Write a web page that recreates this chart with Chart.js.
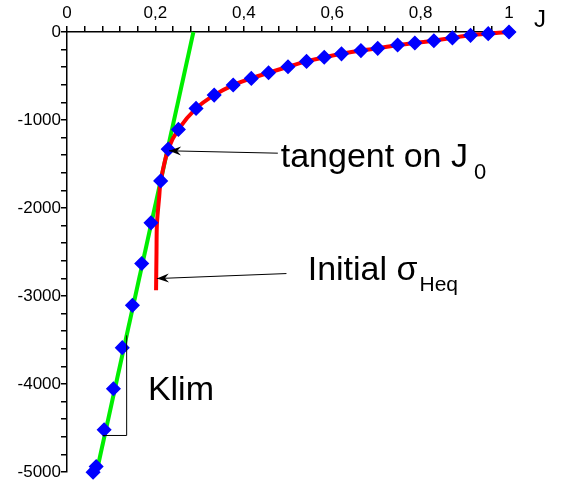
<!DOCTYPE html>
<html>
<head>
<meta charset="utf-8">
<script src="https://cdn.jsdelivr.net/npm/chart.js@4/dist/chart.umd.min.js"></script>
<style>
  html, body { margin:0; padding:0; background:#fff; }
  #wrap { width:563px; height:485px; position:relative; }
</style>
</head>
<body>
<div id="wrap"><canvas id="c"></canvas></div>
<script>
// measured points (J, sigma)
const ptJ = [0.059,0.066,0.084,0.105,0.125,0.148,0.169,0.190,0.212,0.229,0.252,0.292,0.333,0.376,0.417,0.456,0.500,0.542,0.582,0.621,0.665,0.703,0.748,0.787,0.830,0.872,0.913,0.953,1.000];
const ptS = [-5002,-4937,-4520,-4054,-3587,-3106,-2631,-2169,-1692,-1331,-1107,-868,-717,-603,-527,-463,-395,-334,-287,-248,-211,-186,-147,-125,-99,-67,-38,-19,0];

// red fitted curve, tail going down to the initial sigma_Heq
const fitJ = [0.2015,0.2025,0.2035,0.2086,0.212,0.229,0.252,0.292,0.333,0.376,0.417,0.456,0.500,0.542,0.582,0.621,0.665,0.703,0.748,0.787,0.830,0.872,0.913,0.953,1.000];
const fitS = [-2935,-2500,-2176,-1873,-1692,-1331,-1107,-868,-717,-603,-527,-463,-395,-334,-287,-248,-211,-186,-147,-125,-99,-67,-38,-19,0];

// green tangent line
const tanJ = [0.0707, 0.286];
const tanS = [-4915, 0];

// axis ticks
const xMajor = [0, 0.2, 0.4, 0.6, 0.8, 1];
const yMajor = [0, -1000, -2000, -3000, -4000, -5000];

const FONT = '"Liberation Sans", Arial, sans-serif';
const zip = (a, b) => a.map((v, i) => ({x: v, y: b[i]}));
const isMajor = (v, list) => list.some(m => Math.abs(m - v) < 1e-6);

// annotation helpers (data coordinates)
function arrow(ctx, x1, y1, x2, y2) {
  ctx.beginPath();
  ctx.moveTo(x1, y1); ctx.lineTo(x2, y2);
  ctx.stroke();
  const a = Math.atan2(y2 - y1, x2 - x1), L = 12, W = 4.5;
  const bx = x2 - Math.cos(a) * L, by = y2 - Math.sin(a) * L;
  const nx = x2 - Math.cos(a) * (L - 4), ny = y2 - Math.sin(a) * (L - 4);
  ctx.beginPath();
  ctx.moveTo(x2, y2);
  ctx.lineTo(bx - Math.sin(a) * W, by + Math.cos(a) * W);
  ctx.lineTo(nx, ny);
  ctx.lineTo(bx + Math.sin(a) * W, by - Math.cos(a) * W);
  ctx.closePath();
  ctx.fill();
}

const notes = {
  id: 'notes',
  afterDatasetsDraw(chart) {
    const {ctx, scales:{x, y}} = chart;
    ctx.save();
    ctx.strokeStyle = '#000'; ctx.fillStyle = '#000'; ctx.lineWidth = 1;

    // arrows
    arrow(ctx, x.getPixelForValue(0.477), y.getPixelForValue(-1377),
               x.getPixelForValue(0.231), y.getPixelForValue(-1350));
    arrow(ctx, x.getPixelForValue(0.4965), y.getPixelForValue(-2745),
               x.getPixelForValue(0.2034), y.getPixelForValue(-2802));

    // Klim bracket
    ctx.beginPath();
    ctx.moveTo(x.getPixelForValue(0.135), y.getPixelForValue(-3447));
    ctx.lineTo(x.getPixelForValue(0.135), y.getPixelForValue(-4585));
    ctx.lineTo(x.getPixelForValue(0.081), y.getPixelForValue(-4585));
    ctx.stroke();

    ctx.textBaseline = 'alphabetic'; ctx.textAlign = 'left';
    ctx.font = '34px ' + FONT;
    let tx = x.getPixelForValue(0.4836), ty = y.getPixelForValue(-1536);
    ctx.fillText('tangent on J', tx, ty);
    let w = ctx.measureText('tangent on J').width;
    ctx.font = '22px ' + FONT;
    ctx.fillText('0', tx + w + 6, ty + 12);

    ctx.font = '34px ' + FONT;
    tx = x.getPixelForValue(0.5446); ty = y.getPixelForValue(-2821);
    ctx.fillText('Initial \u03C3', tx, ty);
    w = ctx.measureText('Initial \u03C3').width;
    ctx.font = '21px ' + FONT;
    ctx.fillText('Heq', tx + w + 2, ty + 11);

    ctx.font = '34px ' + FONT;
    ctx.fillText('Klim', x.getPixelForValue(0.183), y.getPixelForValue(-4187));

    // axis title J
    ctx.font = '24px ' + FONT;
    ctx.fillText('J', x.right + 25, y.top - 5);
    ctx.restore();
  }
};

new Chart(document.getElementById('c'), {
  type: 'scatter',
  data: {
    datasets: [
      { data: zip(fitJ, fitS), showLine: true, borderColor: '#ff0000', borderWidth: 4,
        pointRadius: 0, tension: 0.3, order: 2 },
      { data: zip(ptJ, ptS), showLine: false, pointStyle: 'rectRot', pointRadius: 6.5,
        backgroundColor: '#0000ff', borderColor: '#0000ff', borderWidth: 1.5, order: 1 },
      { data: zip(tanJ, tanS), showLine: true, borderColor: '#00ee00', borderWidth: 4,
        pointRadius: 0, order: 3 }
    ]
  },
  options: {
    responsive: true, maintainAspectRatio: false, animation: false,
    clip: false,
    layout: { padding: { left: 0, top: 0, right: 54, bottom: 13 } },
    plugins: { legend: { display: false }, tooltip: { enabled: false } },
    scales: {
      x: {
        type: 'linear', position: 'top', min: 0, max: 1,
        afterFit: s => { s.height = 32; },
        border: { color: '#000', width: 1.5 },
        grid: { drawOnChartArea: false, drawTicks: true, tickLength: 6, color: '#000', lineWidth: 1.5 },
        ticks: {
          stepSize: 0.04, autoSkip: false, maxRotation: 0, padding: 2, color: '#000',
          font: { size: 17, family: FONT },
          callback: v => isMajor(v, xMajor) ? String(Math.round(v * 10) / 10).replace('.', ',') : ''
        }
      },
      y: {
        type: 'linear', position: 'left', min: -5000, max: 0,
        afterFit: s => { s.width = 67; },
        border: { color: '#000', width: 1.5 },
        grid: { drawOnChartArea: false, drawTicks: true, tickLength: 6, color: '#000', lineWidth: 1.5 },
        ticks: {
          stepSize: 200, autoSkip: false, padding: 0, color: '#000',
          font: { size: 17, family: FONT },
          callback: v => isMajor(v, yMajor) ? String(Math.round(v)) : ''
        }
      }
    }
  },
  plugins: [notes]
});
</script>
</body>
</html>
